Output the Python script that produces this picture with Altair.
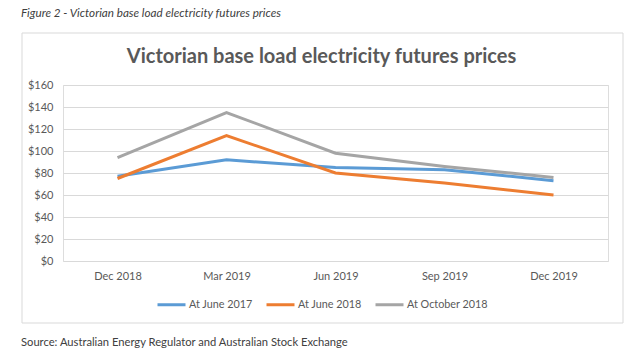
import altair as alt
import pandas as pd

categories = ["Dec 2018", "Mar 2019", "Jun 2019", "Sep 2019", "Dec 2019"]
series_names = ["At June 2017", "At June 2018", "At October 2018"]
june_2017 = [77, 92, 85, 83, 73]
june_2018 = [75, 114, 80, 71, 60]
october_2018 = [94, 135, 98, 86, 76]
colors = ["#5B9BD5", "#ED7D31", "#A5A5A5"]
y_ticks = [0, 20, 40, 60, 80, 100, 120, 140, 160]

rows = []
for name, vals in zip(series_names, [june_2017, june_2018, october_2018]):
    for c, v in zip(categories, vals):
        rows.append({"Period": c, "Price": v, "Series": name})
df = pd.DataFrame(rows)

FONT = "Lato"
GREY = "#595959"

one = alt.Data(values=[{"a": 1}])

border = alt.Chart(one).mark_rect(filled=False, stroke="#d9d9d9", strokeWidth=1).encode(
    x=alt.value(-41), x2=alt.value(560), y=alt.value(-52), y2=alt.value(238)
)

lines = alt.Chart(df).mark_line(strokeWidth=3).encode(
    x=alt.X("Period:N", sort=categories,
            scale=alt.Scale(type="point", padding=0.5),
            axis=alt.Axis(title=None, labelAngle=0, domain=False, ticks=False,
                          labelPadding=9, labelFontSize=11, labelColor=GREY,
                          labelFont=FONT, grid=False)),
    y=alt.Y("Price:Q", scale=alt.Scale(domain=[0, 160]),
            axis=alt.Axis(title=None, values=y_ticks, format="$.0f", domain=False,
                          ticks=False, labelPadding=10, labelFontSize=11,
                          labelColor=GREY, labelFont=FONT, gridColor="#d9d9d9")),
    color=alt.Color("Series:N", sort=series_names,
                    scale=alt.Scale(domain=series_names, range=colors),
                    legend=alt.Legend(title=None, orient="none", legendX=93, legendY=204,
                                      direction="horizontal", symbolType="stroke",
                                      symbolSize=784, symbolStrokeWidth=3,
                                      labelOffset=2, columnPadding=7, padding=0,
                                      labelFont=FONT, labelFontSize=10.8,
                                      labelColor=GREY)),
)

caption = alt.Chart(one).mark_text(
    text="Figure 2 - Victorian base load electricity futures prices",
    font=FONT, fontSize=11.7, fontStyle="italic", color="#404040", align="left",
    baseline="alphabetic"
).encode(x=alt.value(-42), y=alt.value(-68))

title = alt.Chart(one).mark_text(
    text="Victorian base load electricity futures prices",
    font=FONT, fontSize=20, fontWeight="bold", color=GREY, align="center",
    baseline="alphabetic"
).encode(x=alt.value(258.5), y=alt.value(-22))

source = alt.Chart(one).mark_text(
    text="Source: Australian Energy Regulator and Australian Stock Exchange",
    font=FONT, fontSize=11.2, color="#404040", align="left", baseline="alphabetic"
).encode(x=alt.value(-42), y=alt.value(261))

chart = alt.layer(border, lines, caption, title, source).properties(
    width=545, height=176,
    autosize=alt.AutoSizeParams(type="none"),
    padding={"left": 63, "top": 85, "right": 32, "bottom": 94},
).configure_view(stroke=None).configure(background="white")

chart.save("out.html", embed_options={"renderer": "svg", "actions": False})
